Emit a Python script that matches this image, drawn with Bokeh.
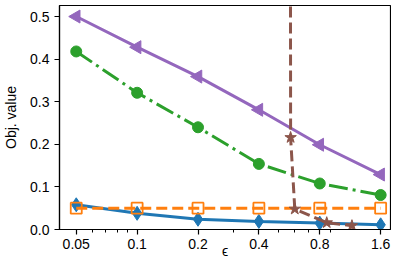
import numpy as np
from bokeh.plotting import figure
from bokeh.models import Range1d, FixedTicker, CustomJSTickFormatter
from bokeh.embed import file_html
from bokeh.resources import INLINE

# ---- data ----
eps = [0.05, 0.1, 0.2, 0.4, 0.8, 1.6]
x_tick_labels = ["0.05", "0.1", "0.2", "0.4", "0.8", "1.6"]
blue_vals = [0.058, 0.038, 0.024, 0.019, 0.015, 0.011]
orange_vals = [0.050, 0.050, 0.050, 0.050, 0.050, 0.050]
green_vals = [0.418, 0.321, 0.240, 0.154, 0.108, 0.081]
purple_vals = [0.500, 0.428, 0.359, 0.281, 0.199, 0.129]
brown_x = [0.572, 0.574, 0.602, 0.866, 1.154]
brown_vals = [1.20, 0.216, 0.048, 0.016, 0.009]
y_ticks = [0.0, 0.1, 0.2, 0.3, 0.4, 0.5]
x_minor = [0.06, 0.07, 0.08, 0.09, 0.3, 0.5, 0.6, 0.7, 0.9]

FONT = "Liberation Sans"

p = figure(width=391, height=261, x_axis_type="log",
           x_range=Range1d(0.04132, 1.790), y_range=Range1d(0.0, 0.5259),
           output_backend="svg", toolbar_location=None,
           min_border_left=54, min_border_right=1, min_border_top=5,
           min_border_bottom=32)
p.background_fill_color = "white"
p.border_fill_color = "white"
p.outline_line_color = "black"
p.outline_line_width = 1.2
p.grid.visible = False

LW = 3
# blue solid with thin diamonds
p.line(eps, blue_vals, line_color="#1f77b4", line_width=LW)
p.scatter(eps, blue_vals, marker="diamond", size=14, color="#1f77b4")
# orange dashed with open squares
p.line(eps, orange_vals, line_color="#ff7f0e", line_width=LW, line_dash="11 5")
p.scatter(eps, orange_vals, marker="square", size=11, line_color="#ff7f0e",
          line_width=1.8, fill_color=None)
# green dash-dot with circles
p.line(eps, green_vals, line_color="#2ca02c", line_width=LW, line_dash="19 5 3 5")
p.scatter(eps, green_vals, marker="circle", size=11, color="#2ca02c")
# purple solid with left triangles
p.line(eps, purple_vals, line_color="#9467bd", line_width=LW)
p.scatter(eps, purple_vals, marker="triangle", size=13, angle=np.pi / 2,
          color="#9467bd")
# brown dashed with stars
p.line(brown_x, brown_vals, line_color="#8c564b", line_width=LW, line_dash="11 5")
p.scatter(brown_x, brown_vals, marker="star", size=12, color="#8c564b")

for ax in (p.xaxis[0], p.yaxis[0]):
    ax.axis_line_color = "black"
    ax.axis_line_width = 1.2
    ax.major_tick_line_color = "black"
    ax.minor_tick_line_color = "black"
    ax.major_tick_line_width = 1.2
    ax.minor_tick_line_width = 1
    ax.major_tick_in = 0
    ax.major_tick_out = 5
    ax.minor_tick_in = 0
    ax.minor_tick_out = 3
    ax.major_label_text_font = FONT
    ax.major_label_text_font_size = "14px"
    ax.major_label_text_color = "black"
    ax.axis_label_text_font = FONT
    ax.axis_label_text_font_size = "14px"
    ax.axis_label_text_font_style = "normal"
    ax.axis_label_text_color = "black"

p.xaxis.ticker = FixedTicker(ticks=eps, minor_ticks=x_minor)
p.xaxis.formatter = CustomJSTickFormatter(
    args=dict(tvals=eps, tlabels=x_tick_labels),
    code="""
    for (let i = 0; i < tvals.length; i++) {
        if (Math.abs(tvals[i] - tick) < 1e-9) return tlabels[i];
    }
    return "";
    """)
p.xaxis.major_label_standoff = 4
p.xaxis.axis_label = "ϵ"
p.xaxis.axis_label_standoff = -9

p.yaxis.ticker = FixedTicker(ticks=y_ticks, minor_ticks=[])
p.yaxis.formatter = CustomJSTickFormatter(code="return tick.toFixed(1);")
p.yaxis.major_label_standoff = 5
p.yaxis.axis_label = "Obj. value"
p.yaxis.axis_label_standoff = 8

open("out.html", "w").write(file_html(p, INLINE))
